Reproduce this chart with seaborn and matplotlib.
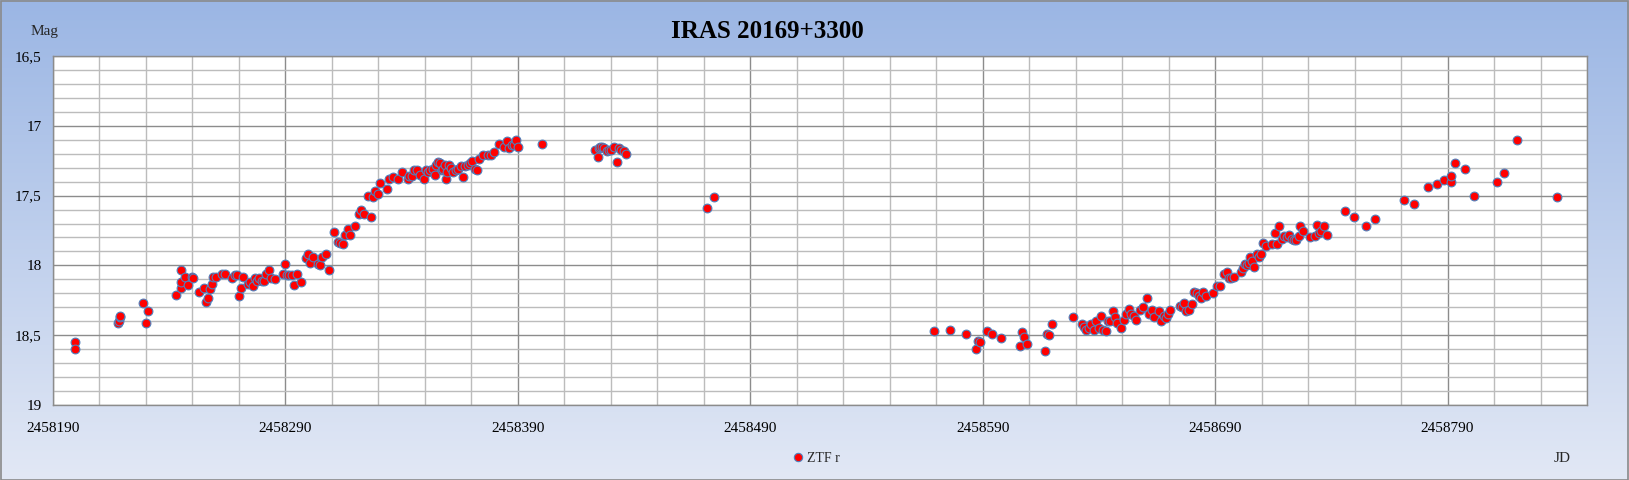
import numpy as np
import pandas as pd
import matplotlib
matplotlib.use("Agg")
import matplotlib.pyplot as plt
from matplotlib.ticker import FixedLocator, FuncFormatter
from matplotlib.lines import Line2D
import seaborn as sns

# ---------------- data ----------------
title = "IRAS 20169+3300"
series_name = "ZTF r"
y_label = "Mag"
x_label = "JD"

jd = [
    2458199.4, 2458199.4, 2458218.1, 2458218.3, 2458219.0, 2458219.1, 2458228.9, 2458231.1, 2458230.1,
    2458243.1, 2458245.0, 2458245.1, 2458245.0, 2458247.0, 2458248.0, 2458249.9, 2458250.3, 2458252.9,
    2458255.1, 2458256.0, 2458256.9, 2458257.7, 2458258.3, 2458259.1, 2458260.3, 2458262.9, 2458263.9,
    2458267.1, 2458268.3, 2458269.3, 2458270.0, 2458271.0, 2458271.9, 2458274.0, 2458275.0, 2458276.0,
    2458276.9, 2458277.9, 2458278.9, 2458280.0, 2458280.9, 2458281.9, 2458283.0, 2458283.7, 2458285.7,
    2458289.7, 2458289.0, 2458290.7, 2458291.7, 2458292.9, 2458293.9, 2458295.1, 2458296.6, 2458298.9,
    2458299.7, 2458300.7, 2458301.9, 2458303.9, 2458304.9, 2458305.7, 2458307.7, 2458308.7,
    2458310.9, 2458312.9, 2458313.6, 2458314.7, 2458315.6, 2458316.9, 2458317.9, 2458319.9, 2458321.6,
    2458322.7, 2458323.9, 2458326.9, 2458325.4, 2458327.6, 2458328.7, 2458329.9, 2458330.7, 2458333.7,
    2458334.6, 2458336.3, 2458338.4, 2458340.4, 2458342.6, 2458343.4, 2458344.4, 2458345.6, 2458346.6,
    2458347.9, 2458349.6, 2458350.4, 2458351.6, 2458352.4, 2458353.6, 2458354.4, 2458354.9, 2458355.7,
    2458356.6, 2458357.3, 2458357.9, 2458358.7, 2458359.3, 2458359.7, 2458360.6, 2458361.4, 2458362.3,
    2458363.3, 2458364.3, 2458365.4, 2458366.6, 2458367.4, 2458368.7, 2458369.4, 2458370.4, 2458371.6,
    2458372.6, 2458373.4, 2458375.1, 2458377.4, 2458378.4, 2458379.6, 2458382.1, 2458384.3, 2458385.3,
    2458386.1, 2458387.4, 2458388.4, 2458389.4, 2458390.3, 2458400.5,
    2458423.4, 2458424.6, 2458424.9, 2458425.6, 2458426.4, 2458427.3, 2458428.2, 2458429.2, 2458430.3,
    2458431.6, 2458432.5, 2458433.5, 2458434.6, 2458435.6, 2458436.6, 2458471.5, 2458474.4,
    2458568.9, 2458576.1, 2458583.0, 2458587.0, 2458588.0, 2458589.0, 2458592.0, 2458593.9, 2458597.9,
    2458605.9, 2458606.8, 2458607.8, 2458608.9, 2458616.8, 2458617.8, 2458618.7, 2458620.0, 2458628.7,
    2458632.8, 2458633.6, 2458634.6, 2458635.9, 2458636.8, 2458637.8, 2458638.9, 2458639.9, 2458640.9,
    2458641.8, 2458642.9, 2458643.9, 2458644.9, 2458645.9, 2458646.9, 2458647.8, 2458649.5, 2458650.8,
    2458651.7, 2458652.8, 2458653.8, 2458655.0, 2458656.0, 2458657.6, 2458658.9, 2458660.7, 2458661.7,
    2458662.7, 2458663.8, 2458665.7, 2458666.7, 2458667.9, 2458668.9, 2458669.6, 2458670.8, 2458674.8,
    2458675.8, 2458676.8, 2458677.7, 2458678.9, 2458679.9, 2458680.8, 2458682.3, 2458683.3, 2458683.8,
    2458684.8, 2458686.0, 2458689.0, 2458691.0, 2458692.0, 2458693.9, 2458695.0, 2458695.9, 2458696.7,
    2458698.0, 2458701.0, 2458701.9, 2458702.8, 2458703.9, 2458704.8, 2458704.9, 2458705.8, 2458706.8,
    2458707.9, 2458708.8, 2458709.8, 2458710.8, 2458711.9, 2458714.7, 2458715.8, 2458716.8, 2458717.7,
    2458718.7, 2458719.7, 2458720.8, 2458721.9, 2458722.9, 2458723.9, 2458724.9, 2458725.9, 2458726.7,
    2458727.9, 2458730.9, 2458732.8, 2458733.8, 2458734.8, 2458735.6, 2458736.9, 2458738.1, 2458745.8,
    2458749.8, 2458754.8, 2458758.9,
    2458771.1, 2458775.4, 2458781.4, 2458785.4, 2458788.4, 2458791.4, 2458791.4, 2458793.4, 2458797.5,
    2458801.5, 2458811.1, 2458814.1, 2458820.1, 2458837.2,
]
mag = [
    18.55, 18.60, 18.41, 18.40, 18.37, 18.36, 18.27, 18.33, 18.41,
    18.21, 18.16, 18.12, 18.03, 18.08, 18.14, 18.08, 18.09, 18.19,
    18.16, 18.26, 18.23, 18.17, 18.13, 18.08, 18.08, 18.06, 18.06,
    18.09, 18.07, 18.07, 18.22, 18.16, 18.08, 18.13, 18.12, 18.15,
    18.09, 18.11, 18.09, 18.11, 18.11, 18.06, 18.03, 18.09, 18.10,
    17.99, 18.06, 18.07, 18.07, 18.07, 18.14, 18.06, 18.12, 17.95,
    17.92, 17.98, 17.94, 17.99, 18.00, 17.94, 17.92, 18.03,
    17.76, 17.83, 17.84, 17.85, 17.78, 17.74, 17.78, 17.72, 17.63,
    17.60, 17.63, 17.65, 17.50, 17.51, 17.47, 17.49, 17.41, 17.45,
    17.38, 17.37, 17.38, 17.33, 17.38, 17.36, 17.36, 17.32, 17.32,
    17.35, 17.38, 17.32, 17.33, 17.32, 17.31, 17.35, 17.28, 17.26,
    17.27, 17.32, 17.31, 17.28, 17.38, 17.33, 17.28, 17.30, 17.33,
    17.32, 17.31, 17.29, 17.37, 17.29, 17.28, 17.27, 17.25, 17.31,
    17.32, 17.24, 17.21, 17.21, 17.21, 17.19, 17.13, 17.15, 17.11,
    17.16, 17.14, 17.14, 17.10, 17.15, 17.13,
    17.17, 17.22, 17.16, 17.15, 17.15, 17.16, 17.18, 17.17, 17.17,
    17.15, 17.26, 17.16, 17.17, 17.18, 17.20, 17.59, 17.51,
    18.47, 18.46, 18.49, 18.60, 18.54, 18.55, 18.47, 18.49, 18.52,
    18.58, 18.48, 18.51, 18.56, 18.61, 18.49, 18.50, 18.42, 18.37,
    18.42, 18.44, 18.46, 18.45, 18.42, 18.46, 18.40, 18.45, 18.36,
    18.46, 18.47, 18.40, 18.40, 18.33, 18.37, 18.41, 18.45, 18.39,
    18.35, 18.31, 18.35, 18.36, 18.39, 18.32, 18.30, 18.23, 18.35,
    18.32, 18.37, 18.33, 18.40, 18.36, 18.38, 18.35, 18.32, 18.29,
    18.30, 18.27, 18.33, 18.32, 18.28, 18.19, 18.20, 18.22, 18.23,
    18.19, 18.22, 18.20, 18.15, 18.15, 18.06, 18.05, 18.09, 18.09,
    18.08, 18.05, 18.02, 17.99, 18.00, 17.98, 17.94, 17.97, 18.01,
    17.92, 17.94, 17.92, 17.84, 17.86, 17.85, 17.77, 17.85, 17.72,
    17.81, 17.79, 17.80, 17.78, 17.81, 17.82, 17.82, 17.79, 17.72,
    17.75, 17.80, 17.79, 17.71, 17.77, 17.75, 17.72, 17.78, 17.61,
    17.65, 17.72, 17.67,
    17.53, 17.56, 17.44, 17.42, 17.39, 17.40, 17.36, 17.27, 17.31,
    17.50, 17.40, 17.34, 17.10, 17.51,
]

x_major_ticks = [2458190, 2458290, 2458390, 2458490, 2458590, 2458690, 2458790]
y_major_ticks = [16.5, 17.0, 17.5, 18.0, 18.5, 19.0]
x_min, x_max = 2458190, 2458850
y_min, y_max = 16.5, 19.0

df = pd.DataFrame({"JD": jd, "Mag": mag})

# ---------------- style ----------------
sns.set_style("white")
plt.rcParams["font.family"] = ["Liberation Serif", "DejaVu Serif"]

W, H = 1629, 480
fig = plt.figure(figsize=(W / 100, H / 100), dpi=100)

# gradient background
bg = fig.add_axes([0, 0, 1, 1], zorder=-10)
top_c = np.array([155, 182, 228]) / 255.0
bot_c = np.array([226, 232, 245]) / 255.0
t = np.linspace(0, 1, 256)[:, None]
grad = top_c[None, :] * (1 - t) + bot_c[None, :] * t
grad = np.repeat(grad[:, None, :], 2, axis=1)
bg.imshow(grad, aspect="auto", extent=[0, 1, 0, 1], origin="upper")
bg.set_xlim(0, 1)
bg.set_ylim(0, 1)
bg.axis("off")
bg.add_patch(plt.Rectangle((0.0006, 0.001), 0.9988, 0.997, fill=False,
                           edgecolor="#8a8a8a", linewidth=1.2))

left, right = 52.8 / W, 1587 / W
bottom, top = 1 - 405 / H, 1 - 56 / H
ax = fig.add_axes([left, bottom, right - left, top - bottom])
ax.set_facecolor("white")

sns.scatterplot(data=df, x="JD", y="Mag", ax=ax, color="#ff0000",
                edgecolor="#4f81bd", linewidth=0.8, s=40, zorder=5, legend=False)

ax.set_xlim(x_min, x_max)
ax.set_ylim(y_max, y_min)

ax.xaxis.set_major_locator(FixedLocator(x_major_ticks))
ax.xaxis.set_minor_locator(FixedLocator(np.arange(x_min, x_max + 1, 20)))
ax.yaxis.set_major_locator(FixedLocator(y_major_ticks))
ax.yaxis.set_minor_locator(FixedLocator(np.round(np.arange(y_min, y_max + 0.01, 0.1), 2)))
ax.xaxis.set_major_formatter(FuncFormatter(lambda v, p: f"{int(round(v))}"))
ax.yaxis.set_major_formatter(FuncFormatter(lambda v, p: f"{v:g}".replace(".", ",")))

ax.grid(which="minor", color="#bcbcbc", linewidth=1.0, zorder=1)
ax.grid(which="major", color="#8c8c8c", linewidth=1.0, zorder=2)
ax.set_axisbelow(True)

ax.tick_params(axis="both", which="major", direction="out", length=5, width=1,
               color="#8c8c8c", labelsize=11, labelcolor="#000000")
ax.tick_params(axis="x", which="major", pad=7)
ax.tick_params(axis="y", which="major", pad=3)
ax.tick_params(axis="both", which="minor", length=0)
for side in ["left", "bottom", "top", "right"]:
    ax.spines[side].set_color("#8c8c8c")
    ax.spines[side].set_linewidth(1.0)

ax.set_xlabel("")
ax.set_ylabel("")

fig.text(767 / W, 1 - 32 / H, title, ha="center", va="center",
         fontsize=18, fontweight="bold", color="#000000")
fig.text(44 / W, 1 - 32 / H, y_label, ha="center", va="center", fontsize=11)
fig.text(1562 / W, 1 - 458 / H, x_label, ha="center", va="center", fontsize=11)

handle = Line2D([], [], linestyle="none", marker="o", markersize=6,
                markerfacecolor="#ff0000", markeredgecolor="#4f81bd",
                markeredgewidth=0.8)
fig.legend([handle], [series_name], loc="center",
           bbox_to_anchor=(816 / W, 1 - 458 / H), frameon=False,
           fontsize=10, handlelength=0.8, handletextpad=0.3, borderpad=0)

fig.savefig("out.png", dpi=100)
